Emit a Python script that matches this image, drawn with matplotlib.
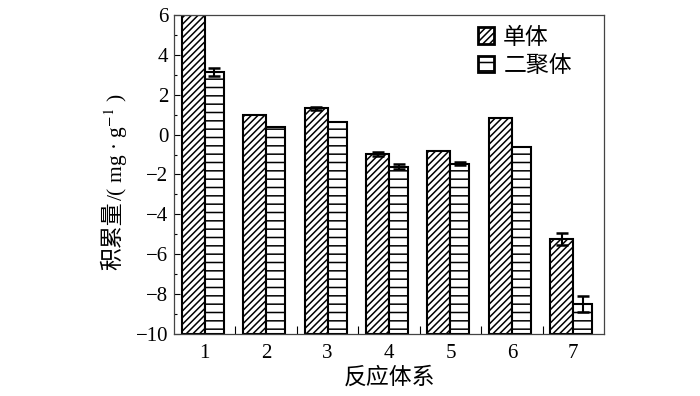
import numpy as np
import matplotlib
matplotlib.use("Agg")
import matplotlib.pyplot as plt
from matplotlib.ticker import MultipleLocator, FixedLocator

plt.rcParams['font.family'] = ['Liberation Serif', 'Noto Sans CJK SC']
plt.rcParams['mathtext.fontset'] = 'stix'
plt.rcParams['hatch.linewidth'] = 1.1

categories = ['1', '2', '3', '4', '5', '6', '7']
monomer = [6.0, 1.0, 1.32, -0.97, -0.82, 0.85, -5.24]
monomer_err = [0.0, 0.0, 0.07, 0.12, 0.0, 0.0, 0.32]
dimer = [3.12, 0.40, 0.65, -1.60, -1.45, -0.61, -8.48]
dimer_err = [0.2, 0.0, 0.0, 0.15, 0.08, 0.0, 0.41]
series_names = ['单体', '二聚体']
ylabel_cn = '积累量'
ylabel_unit = '/( mg · g$^{-1}$ )'
xlabel = '反应体系'
ymin, ymax = -10, 6

fig = plt.figure(figsize=(7, 3.96), dpi=100)
ax = fig.add_axes([0.2486, 0.1566, 0.6143, 0.8056])

x = np.arange(1, len(categories) + 1)
w1, w2 = 0.375, 0.31
m = np.array(monomer)
d = np.array(dimer)
ax.bar(x, m - ymin, bottom=ymin, width=-w1, align='edge', color='white',
       edgecolor='black', linewidth=1.5, hatch='/////', label=series_names[0])
ax.bar(x, d - ymin, bottom=ymin, width=w2, align='edge', color='white',
       edgecolor='black', linewidth=1.5, hatch='--', label=series_names[1])

me = np.array(monomer_err)
de = np.array(dimer_err)
mask = me > 0
ax.errorbar(x[mask] - w1 / 2, m[mask], yerr=me[mask], fmt='none', ecolor='black',
            elinewidth=1.5, capsize=4, capthick=1.8)
mask = de > 0
ax.errorbar(x[mask] + w2 / 2, d[mask], yerr=de[mask], fmt='none', ecolor='black',
            elinewidth=1.5, capsize=4, capthick=1.8)

ax.set_xlim(0.5, 7.5)
ax.set_ylim(ymin, ymax)
ax.set_xticks(x)
ax.set_xticklabels(categories)
ax.xaxis.set_minor_locator(FixedLocator(x[:-1] + 0.5))
ax.tick_params(axis='x', which='major', length=0, labelsize=15, pad=7)
ax.tick_params(axis='x', which='minor', direction='in', length=6, width=0.8,
               top=False)
ax.yaxis.set_major_locator(MultipleLocator(2))
ax.yaxis.set_minor_locator(MultipleLocator(1))
ax.tick_params(axis='y', which='major', direction='in', length=4, width=0.8,
               labelsize=15, pad=4)
ax.tick_params(axis='y', which='minor', direction='in', length=2.5, width=0.8)

for s in ax.spines.values():
    s.set_color('#444444')
    s.set_linewidth(0.9)

# y label composed of a CJK part and a serif unit part
t1 = fig.text(113 / 700, 1 - 270 / 396, ylabel_cn, rotation=90, ha='center',
              va='bottom', fontsize=16.5, family=['Noto Sans CJK SC'])
fig.canvas.draw()
bb = t1.get_window_extent()
t2 = fig.text(116 / 700, bb.y1 / fig.bbox.height, ylabel_unit, rotation=90,
              ha='center', va='bottom', fontsize=15.5,
              family=['Liberation Serif'])

ax.set_xlabel(xlabel, fontsize=16.5, family=['Noto Sans CJK SC'], labelpad=2)

leg = ax.legend(loc='upper left', bbox_to_anchor=(0.675, 1.01), frameon=False,
                prop={'family': 'Noto Sans CJK SC', 'size': 16.5},
                handlelength=0.7, handleheight=0.7, handletextpad=0.4,
                labelspacing=0.25, borderaxespad=0.2)
for h in leg.legend_handles:
    h.set_linewidth(2.0)

fig.savefig('out.png', dpi=100)
